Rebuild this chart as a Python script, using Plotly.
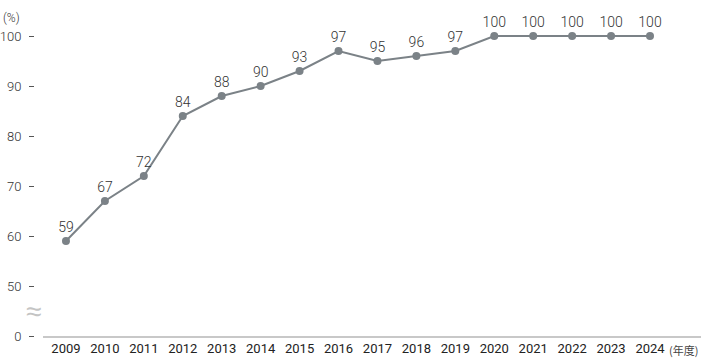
import plotly.graph_objects as go

years = [2009, 2010, 2011, 2012, 2013, 2014, 2015, 2016, 2017, 2018, 2019, 2020, 2021, 2022, 2023, 2024]
values = [59, 67, 72, 84, 88, 90, 93, 97, 95, 96, 97, 100, 100, 100, 100, 100]
ytick_vals = [40, 50, 60, 70, 80, 90, 100]   # 40 position shows the broken-axis "0"
ytick_text = ["0", "50", "60", "70", "80", "90", "100"]

W, H = 705, 360
ml, mr, mt, mb = 34, 4, 16, 24
plot_w = W - ml - mr
plot_h = H - mt - mb
x_dom0 = (43 - ml) / plot_w

FONT = "Roboto, 'Noto Sans', sans-serif"

fig = go.Figure()
fig.add_trace(go.Scatter(
    x=years, y=values, mode="lines+markers+text",
    text=[str(v) for v in values], textposition="top center",
    textfont=dict(family=FONT, size=14, color="#333333", weight=300),
    line=dict(color="#7b8287", width=2),
    marker=dict(color="#7b8287", size=8),
    cliponaxis=False, hoverinfo="skip",
))

fig.update_layout(
    width=W, height=H,
    margin=dict(l=ml, r=mr, t=mt, b=mb, autoexpand=False),
    paper_bgcolor="white", plot_bgcolor="white",
    showlegend=False,
    font=dict(family=FONT, size=13, color="#333333"),
    xaxis=dict(
        domain=[x_dom0, 1], range=[2008.41, 2025.31],
        tickmode="array", tickvals=years, ticktext=[str(y) for y in years],
        showgrid=False, zeroline=False, automargin=False,
        showline=True, linecolor="#c8c8c8", linewidth=1.5,
        ticks="", tickfont=dict(size=13, color="#222222"),
        fixedrange=True,
    ),
    yaxis=dict(
        anchor="free", position=0, range=[40, 104], automargin=False,
        tickmode="array", tickvals=ytick_vals, ticktext=ytick_text,
        showgrid=False, zeroline=False, showline=False,
        ticks="outside", ticklen=5, tickwidth=1, tickcolor="#555555",
        ticklabelstandoff=5,
        tickfont=dict(size=13, color="#333333", weight=300),
        fixedrange=True,
    ),
    annotations=[
        dict(text="(%)", xref="paper", yref="paper", x=-(ml - 1) / plot_w, y=1 - 2 / plot_h,
             xanchor="left", yanchor="middle", showarrow=False,
             font=dict(size=12, color="#333333", weight=300)),
        dict(text="(年度)", xref="paper", yref="paper", x=1 - 1 / plot_w, y=-14 / plot_h,
             xanchor="right", yanchor="middle", showarrow=False,
             font=dict(size=11, color="#444444", family="'Noto Sans CJK JP', sans-serif")),
        dict(text="≈", xref="paper", yref="y", x=-1 / plot_w, y=45,
             xanchor="center", yanchor="middle", showarrow=False,
             font=dict(size=28, color="#c4c4c4", family="'DejaVu Sans', sans-serif", weight=300)),
    ],
)

fig.write_html("out.html", config={"displayModeBar": False},
               post_script="document.body.style.margin='0';")
